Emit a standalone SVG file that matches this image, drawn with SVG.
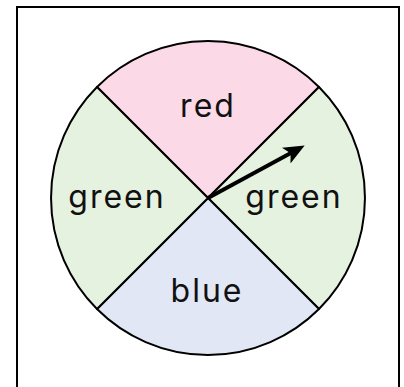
<svg xmlns="http://www.w3.org/2000/svg" width="404" height="387" viewBox="0 0 404 387">
<style>
.sec{stroke:#000;stroke-width:2;stroke-linejoin:round}
.lbl{font-family:Inter,"Liberation Sans",sans-serif;font-size:32px;fill:#111;text-anchor:middle;letter-spacing:2px}
</style>
<defs>
<marker id="ah" viewBox="0 0 21 18" refX="10" refY="9" markerWidth="21" markerHeight="18" orient="auto" markerUnits="userSpaceOnUse">
<path d="M0,0 L21,9 L0,18 L5,9 Z" fill="#000"/>
</marker>
</defs>
<rect x="17" y="7" width="382" height="400" fill="#fff" stroke="#000" stroke-width="2"/>
<g id="red">
<path class="sec" d="M208,198 L97,87 A157,157 0 0 1 319,87 Z" fill="#fcd9e7"/>
<text class="lbl" x="208" y="117">red</text>
</g>
<g id="green-right">
<path class="sec" d="M208,198 L319,87 A157,157 0 0 1 319,309 Z" fill="#e6f2e0"/>
<text class="lbl" x="294" y="208">green</text>
</g>
<g id="blue">
<path class="sec" d="M208,198 L319,309 A157,157 0 0 1 97,309 Z" fill="#e1e7f4"/>
<text class="lbl" x="207" y="302">blue</text>
</g>
<g id="green-left">
<path class="sec" d="M208,198 L97,309 A157,157 0 0 1 97,87 Z" fill="#e6f2e0"/>
<text class="lbl" x="117" y="208">green</text>
</g>
<g id="connectors">
<line x1="208" y1="198" x2="295" y2="150.8" stroke="#000" stroke-width="4" marker-end="url(#ah)"/>
</g>
</svg>
